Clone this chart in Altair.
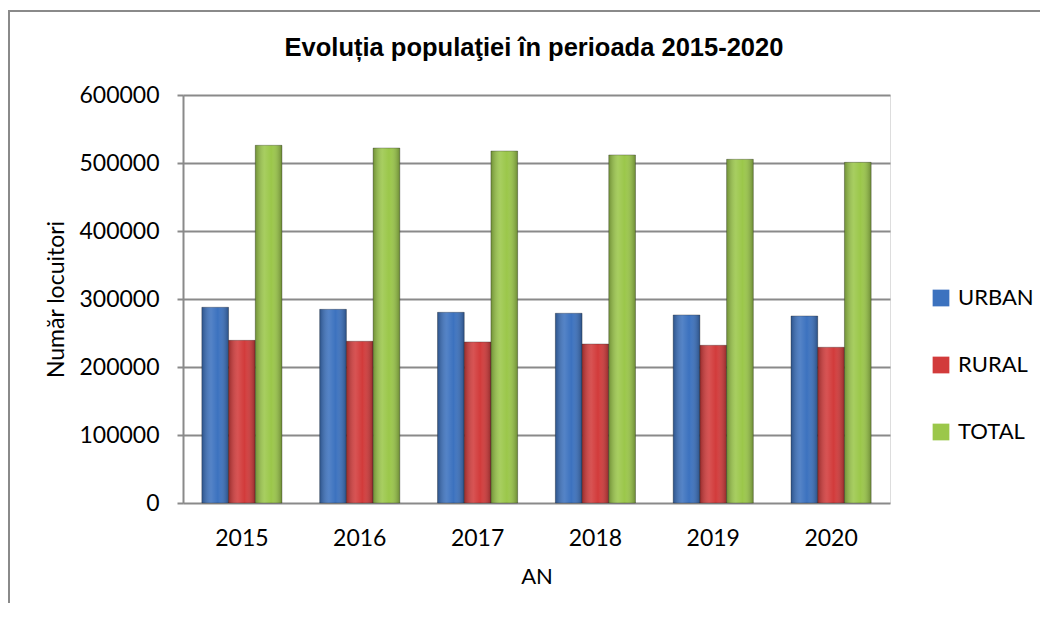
import altair as alt
import pandas as pd

years = ["2015", "2016", "2017", "2018", "2019", "2020"]
series = ["URBAN", "RURAL", "TOTAL"]
urban = [287800, 284800, 280400, 279000, 276500, 275000]
rural = [239200, 237800, 236800, 233800, 231900, 229000]
total = [526000, 522000, 517600, 511800, 505400, 501000]
colors = ["#3c72bf", "#d23b3b", "#9bc74a"]
y_ticks = [0, 100000, 200000, 300000, 400000, 500000, 600000]
title_text = "Evoluția populaţiei în perioada 2015-2020"

rows = []
for i, yr in enumerate(years):
    rows.append({"An": yr, "Serie": "URBAN", "Valoare": urban[i]})
    rows.append({"An": yr, "Serie": "RURAL", "Valoare": rural[i]})
    rows.append({"An": yr, "Serie": "TOTAL", "Valoare": total[i]})
df = pd.DataFrame(rows)

FONT = "Lato"

x_enc = alt.X("An:N", title="AN",
              scale=alt.Scale(paddingInner=0.32, paddingOuter=0.16),
              axis=alt.Axis(labelAngle=0, ticks=False, domain=False,
                            labelFontSize=23, labelFont=FONT, labelColor="#000",
                            labelPadding=24, titleFontSize=22, titleFont=FONT,
                            titleFontWeight="normal", titleColor="#000", titlePadding=16))
y_enc = alt.Y("Valoare:Q", title="Număr locuitori",
              scale=alt.Scale(domain=[0, 600000], nice=False),
              axis=alt.Axis(values=y_ticks, format="d", grid=True, gridColor="#8a8a8a",
                            gridWidth=2, domain=True, domainColor="#8a8a8a", domainWidth=2,
                            ticks=True, tickSize=6, tickColor="#8a8a8a", tickWidth=2,
                            labelFontSize=23, labelFont=FONT, labelColor="#000",
                            labelPadding=18, titleFontSize=23, titleFont=FONT,
                            titleFontWeight="normal", titleColor="#000", titlePadding=10))
xo = alt.XOffset("Serie:N", sort=series, scale=alt.Scale(domain=series))

bars = alt.Chart(df).mark_bar(stroke="#2a2a2a", strokeOpacity=0.35, strokeWidth=1).encode(
    x=x_enc, xOffset=xo, y=y_enc,
    color=alt.Color("Serie:N", sort=series,
                    scale=alt.Scale(domain=series, range=colors),
                    legend=alt.Legend(title=None, orient="none", legendX=747, legendY=192,
                                      symbolType="square", symbolSize=280,
                                      symbolStrokeWidth=0, labelFontSize=22,
                                      labelFont=FONT, labelColor="#000", rowPadding=45,
                                      labelOffset=6)),
)

shade = alt.Chart(df).mark_bar(
    fill=alt.Gradient(
        gradient="linear", x1=0, x2=1, y1=0, y2=0,
        stops=[alt.GradientStop(color="rgba(0,0,0,0.28)", offset=0),
               alt.GradientStop(color="rgba(255,255,255,0.12)", offset=0.35),
               alt.GradientStop(color="rgba(255,255,255,0.0)", offset=0.6),
               alt.GradientStop(color="rgba(0,0,0,0.3)", offset=1)]),
).encode(x="An:N", xOffset=xo, y="Valoare:Q")

frame = alt.Chart(pd.DataFrame({"a": [0]})).mark_rect(
    fill=None, stroke="#8a8a8a", strokeWidth=2, clip=False
).encode(x=alt.value(-174), x2=alt.value(1200), y=alt.value(-84), y2=alt.value(900))

title = alt.Chart(pd.DataFrame({"t": [title_text]})).mark_text(
    font="Liberation Sans", fontSize=25.5, fontWeight="bold", color="#000",
    align="center", baseline="alphabetic"
).encode(text="t:N", x=alt.value(351), y=alt.value(-39))

chart = alt.layer(frame, bars, shade, title).properties(
    width=707, height=408,
    autosize=alt.AutoSizeParams(type="none"),
    padding={"left": 175, "top": 87, "right": 150, "bottom": 100},
).configure_view(stroke=None).configure(background="white")

chart.save("out.html", embed_options={"renderer": "svg", "actions": False})
